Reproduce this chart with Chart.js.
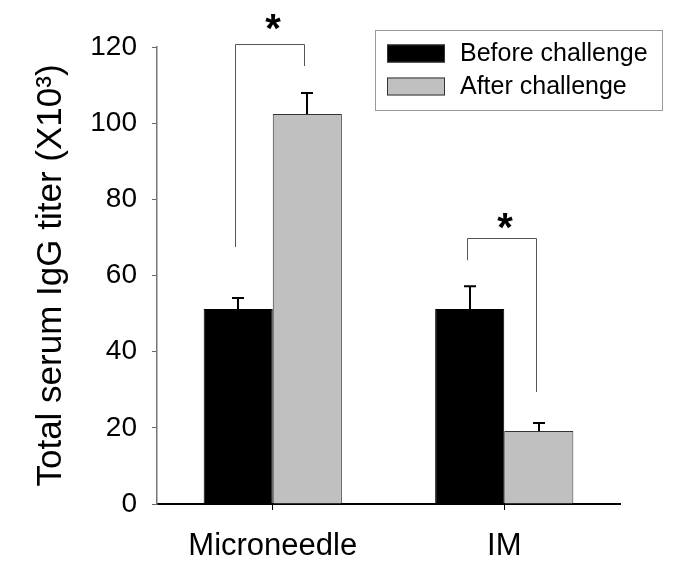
<!DOCTYPE html>
<html>
<head>
<meta charset="utf-8">
<script src="https://cdn.jsdelivr.net/npm/chart.js@4/dist/chart.umd.min.js"></script>
<style>
html, body { margin: 0; padding: 0; background: #fff; }
</style>
</head>
<body>
<canvas id="iggChart" width="675" height="574"></canvas>
<script>
const groups = ['Microneedle', 'IM'];
const beforeValues = [51.2, 51.2];
const afterValues = [102.4, 19.2];
const beforeErrors = [2.9, 6.0];
const afterErrors = [5.5, 2.1];
const yTicks = [0, 20, 40, 60, 80, 100, 120];

// significance brackets (one per group): top line, left foot, right foot, star level
const bracketTops = [120.8, 69.9];
const bracketLeftFeet = [67.5, 64];
const bracketRightFeet = [115, 29.4];
const starLevels = [126.3, 74.1];

const FONT = 'Arial, "Liberation Sans", sans-serif';

// error bars, only the upper half
const errorBars = {
    id: 'errorBars',
    afterDatasetsDraw(chart) {
        const ctx = chart.ctx;
        const y = chart.scales.y;
        const errs = [beforeErrors, afterErrors];
        ctx.save();
        ctx.strokeStyle = '#000';
        ctx.lineWidth = 2;
        chart.data.datasets.forEach((ds, i) => {
            chart.getDatasetMeta(i).data.forEach((bar, j) => {
                const top = y.getPixelForValue(ds.data[j] + errs[i][j]);
                const x = Math.round(bar.x);
                ctx.beginPath();
                ctx.moveTo(x, bar.y);
                ctx.lineTo(x, top);
                ctx.moveTo(x - 6, top);
                ctx.lineTo(x + 6, top);
                ctx.stroke();
            });
        });
        ctx.restore();
    }
};

// brackets with stars + boxed legend
const extras = {
    id: 'extras',
    afterDraw(chart) {
        const ctx = chart.ctx;
        const y = chart.scales.y;
        const m0 = chart.getDatasetMeta(0).data;
        const m1 = chart.getDatasetMeta(1).data;
        ctx.save();
        ctx.strokeStyle = '#555';
        ctx.lineWidth = 1;
        groups.forEach((g, j) => {
            const xl = Math.round(m0[j].x - 3) + 0.5;
            const xr = Math.round(m1[j].x - 3) + 0.5;
            const yt = Math.round(y.getPixelForValue(bracketTops[j])) + 0.5;
            ctx.beginPath();
            ctx.moveTo(xl, y.getPixelForValue(bracketLeftFeet[j]));
            ctx.lineTo(xl, yt);
            ctx.lineTo(xr, yt);
            ctx.lineTo(xr, y.getPixelForValue(bracketRightFeet[j]));
            ctx.stroke();
            ctx.fillStyle = '#000';
            ctx.font = 'bold 40px ' + FONT;
            ctx.textAlign = 'center';
            ctx.textBaseline = 'alphabetic';
            ctx.fillText('*', (xl + xr) / 2 + 3, y.getPixelForValue(starLevels[j]) + 19);
        });

        // legend box
        ctx.strokeStyle = '#999';
        ctx.strokeRect(375.5, 30.5, 287, 80);
        const rows = [53.5, 86.5];
        ctx.font = '25px ' + FONT;
        ctx.textAlign = 'left';
        ctx.textBaseline = 'middle';
        chart.data.datasets.forEach((ds, i) => {
            ctx.fillStyle = ds.backgroundColor;
            ctx.fillRect(387, rows[i] - 9, 58, 18);
            ctx.strokeStyle = '#333';
            ctx.strokeRect(387.5, rows[i] - 8.5, 57, 17);
            ctx.fillStyle = '#000';
            ctx.fillText(ds.label, 460, rows[i] + 1);
        });
        ctx.restore();
    }
};

const ctx = document.getElementById('iggChart').getContext('2d');
const chart = new Chart(ctx, {
    type: 'bar',
    data: {
        labels: groups,
        datasets: [{
            label: 'Before challenge',
            data: beforeValues,
            backgroundColor: '#000000',
            borderColor: '#000000',
            borderWidth: 1
        }, {
            label: 'After challenge',
            data: afterValues,
            backgroundColor: '#c0c0c0',
            borderColor: '#333333',
            borderWidth: 1
        }]
    },
    options: {
        responsive: false,
        animation: false,
        devicePixelRatio: 1,
        layout: { padding: { left: 0, top: 47, right: 55, bottom: 0 } },
        datasets: { bar: { barPercentage: 1, categoryPercentage: 0.597 } },
        plugins: {
            legend: { display: false },
            tooltip: { enabled: false }
        },
        scales: {
            x: {
                afterFit: s => { s.height = 70; },
                grid: { offset: false, drawOnChartArea: false, drawTicks: true, tickLength: 6, color: '#000' },
                border: { display: true, color: '#000', width: 2 },
                ticks: { color: '#000', padding: 18, font: { family: FONT, size: 31 } }
            },
            y: {
                min: 0,
                max: 120,
                afterFit: s => { s.width = 157; },
                afterBuildTicks: s => { s.ticks = yTicks.map(v => ({ value: v })); },
                grid: { drawOnChartArea: false, drawTicks: true, tickLength: 5, color: '#666' },
                border: { display: true, color: '#777', width: 1.5 },
                ticks: { color: '#000', padding: 15, font: { family: FONT, size: 28 } },
                title: {
                    display: true,
                    text: 'Total serum IgG titer (X10³)',
                    color: '#000',
                    padding: { top: 30, bottom: 0 },
                    font: { family: FONT, size: 35 }
                }
            }
        }
    },
    plugins: [errorBars, extras]
});
</script>
</body>
</html>
